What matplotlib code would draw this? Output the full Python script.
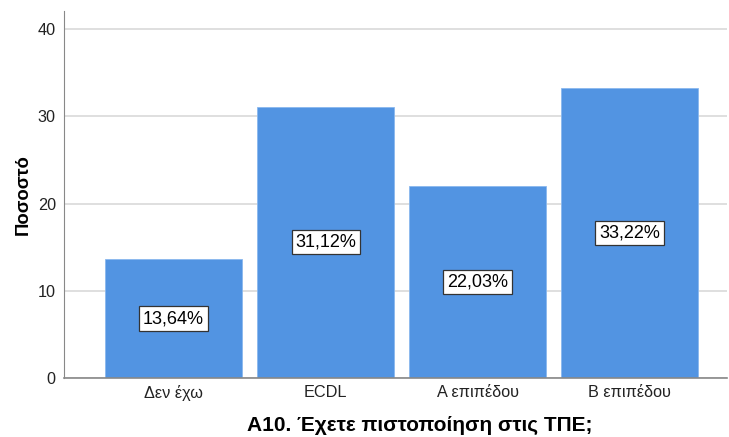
import matplotlib.pyplot as plt
import numpy as np

plt.rcParams['font.family'] = ['Liberation Sans', 'DejaVu Sans']

categories = ['Δεν έχω', 'ECDL', 'Α επιπέδου', 'Β επιπέδου']
values = [13.64, 31.12, 22.03, 33.22]

fig = plt.figure(figsize=(7.29, 4.37), dpi=100)
ax = fig.add_axes([0.088, 0.135, 0.909, 0.84])

x = np.arange(len(categories))
ax.bar(x, values, width=0.9, color='#5294e2', edgecolor='#8ab8ee', linewidth=0.6, zorder=2)

for xi, v in zip(x, values):
    label = f'{v:.2f}%'.replace('.', ',')
    ax.text(xi, v / 2, label, ha='center', va='center', fontsize=13, color='black', zorder=3,
            bbox=dict(boxstyle='square,pad=0.2', facecolor='white', edgecolor='#333333', linewidth=0.9))

ax.set_xlim(-0.72, 3.64)
ax.set_ylim(0, 42.1)
ax.set_yticks([0, 10, 20, 30, 40])
ax.set_xticks(x)
ax.set_xticklabels(categories)
ax.tick_params(axis='both', length=0, labelsize=11.7, labelcolor='#222222')
ax.tick_params(axis='x', pad=5)
ax.tick_params(axis='y', pad=6)
ax.yaxis.grid(True, color='#d9d9d9', linewidth=1.2, zorder=0)
ax.set_axisbelow(True)

for s in ['top', 'right']:
    ax.spines[s].set_visible(False)
ax.spines['left'].set_color('#888888')
ax.spines['bottom'].set_color('#888888')
ax.spines['bottom'].set_linewidth(1.2)

ax.set_xlabel('Α10. Έχετε πιστοποίηση στις ΤΠΕ;', fontsize=15, fontweight='bold', labelpad=11, x=0.537)
ax.set_ylabel('Ποσοστό', fontsize=13.3, fontweight='bold', labelpad=4)

plt.savefig('out.png', dpi=100)
plt.close()
